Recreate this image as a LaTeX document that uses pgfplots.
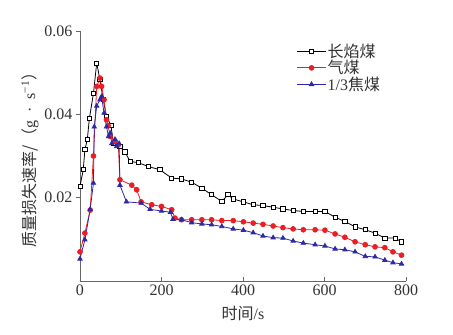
\documentclass[border=0pt]{standalone}
\usepackage{fontspec}
\setmainfont{Liberation Serif}
\newfontfamily\cjk{Noto Sans CJK SC}
\usepackage{pgfplots}
\pgfplotsset{compat=1.18}
\usetikzlibrary{plotmarks}
\definecolor{cblue}{RGB}{45,40,165}
\definecolor{cred}{RGB}{235,30,35}
\definecolor{txt}{RGB}{50,50,50}
\begin{document}
\begin{tikzpicture}[font=\fontsize{16bp}{18bp}\selectfont]
\begin{axis}[
  scale only axis, width=326bp, height=250bp,
  xmin=0, xmax=800, ymin=0, ymax=0.06,
  axis lines*=left, axis line style={-, gray!80!black, line width=0.6pt},
  xtick={0,200,400,600,800}, ytick={0.02,0.04,0.06},
  xtick align=inside, ytick align=outside,
  major tick length=4bp,
  tick style={gray!80!black, line width=0.6pt},
  y tick label style={/pgf/number format/.cd, fixed, fixed zerofill, precision=2},
  scaled y ticks=false,
  /pgf/number format/assume math mode=true,
  ticklabel style={text=txt},
  xlabel={{\cjk 时间}/s},
  xlabel style={at={(axis description cs:0.5,-0.13)}, anchor=center, text=txt},
  ylabel={{\cjk 质量损失速率/（}g\enspace·\enspace s\textsuperscript{−1}{\cjk ）}},
  ylabel style={at={(axis description cs:-0.153,0.5)}, anchor=center, text=txt},
  clip=false,
  legend style={at={(axis description cs:0.665,0.955)}, anchor=north west, draw=none, fill=none,
    inner sep=0pt, row sep=-1.5pt, text=txt, nodes={inner sep=1.5pt}},
  legend cell align=left,
  legend image code/.code={\draw[mark repeat=2,mark phase=2] plot coordinates {(0cm,0cm) (0.5cm,0cm) (1.0cm,0cm)};},
]
\coordinate (O) at (rel axis cs:0,0);
\addplot[black, line width=0.8pt, mark=square*, mark size=2.1bp, mark options={solid, fill=white, draw=black, line width=0.8pt}] coordinates {
(0,0.0228) (8,0.0267) (12,0.0315) (18,0.034) (23,0.039) (33,0.045) (41,0.0523)
(49,0.0483) (57,0.0435) (65,0.0395) (76,0.0373) (82,0.033) (98,0.0323) (110,0.031)
(123,0.0287) (143,0.0284) (167,0.0275) (196,0.0267) (225,0.0247) (249,0.0245)
(274,0.0237) (299,0.0223) (323,0.0207) (348,0.0191) (363,0.0207) (376,0.0197)
(400,0.019) (425,0.0183) (449,0.0181) (474,0.0177) (498,0.0173) (523,0.0169)
(548,0.0167) (577,0.0167) (601,0.0167) (626,0.0153) (650,0.0143) (675,0.013)
(700,0.0123) (724,0.0115) (748,0.0103) (773,0.0103) (789,0.0094)
};
\addlegendentry{{\cjk 长焰煤}}
\addplot[cred, line width=0.8pt, mark=*, mark size=2.4bp, mark options={solid, fill=cred, draw=cred}] coordinates {
(0,0.007) (12,0.0115) (25,0.017) (33,0.030) (41,0.0467) (49,0.0487) (53,0.0467)
(59,0.0435) (65,0.0387) (69,0.0373) (74,0.0347) (86,0.0335) (94,0.0327) (98,0.0243)
(127,0.0230) (139,0.0219) (150,0.019) (176,0.0183) (200,0.0179) (225,0.0171)
(233,0.0151) (249,0.0147) (274,0.0147) (299,0.0147) (323,0.0147) (348,0.0145)
(376,0.0145) (401,0.0142) (425,0.0139) (449,0.0136) (474,0.0132) (498,0.0128)
(523,0.0125) (548,0.0123) (577,0.0123) (601,0.0122) (626,0.0113) (650,0.0105)
(675,0.0094) (700,0.0087) (724,0.0082) (748,0.0080) (768,0.0070) (789,0.0062)
};
\addlegendentry{{\cjk 气煤}}
\addplot[cblue, line width=0.8pt, mark=triangle*, mark size=2.5bp, mark options={solid, fill=cblue, draw=cblue}] coordinates {
(0,0.0053) (12,0.0099) (25,0.0172) (33,0.0235) (35,0.037) (41,0.042) (49,0.0435)
(53,0.0443) (59,0.0403) (65,0.037) (70,0.0347) (74,0.0355) (78,0.033) (86,0.034)
(90,0.0323) (96,0.033) (98,0.023) (114,0.019) (150,0.0187) (172,0.0172) (200,0.0168)
(222,0.0165) (228,0.0148) (249,0.0147) (274,0.014) (299,0.0137) (323,0.0135)
(348,0.0131) (376,0.0125) (401,0.0122) (425,0.0116) (449,0.0108) (474,0.0104)
(498,0.0103) (523,0.0096) (548,0.0091) (577,0.0087) (601,0.0084) (626,0.0077)
(650,0.0075) (675,0.0070) (700,0.0059) (724,0.0058) (748,0.0050) (768,0.0044)
(789,0.0041)
};
\addlegendentry{1/3{\cjk 焦煤}}
\end{axis}
\path ([shift={(-80bp,-54bp)}]O) rectangle ([shift={(373bp,281bp)}]O);
\end{tikzpicture}
\end{document}
